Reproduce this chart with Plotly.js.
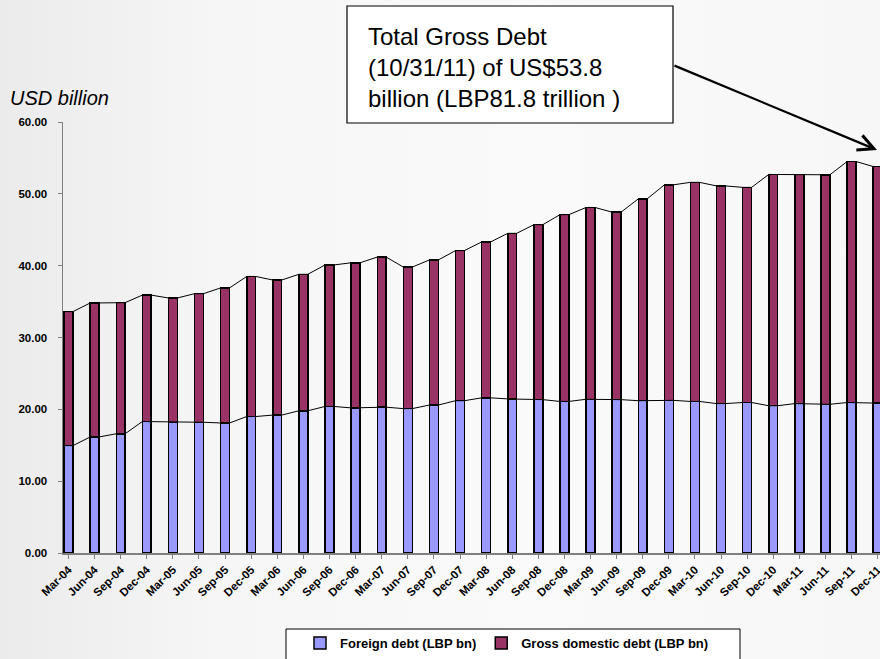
<!DOCTYPE html>
<html>
<head>
<meta charset="utf-8">
<script src="https://cdn.plot.ly/plotly-3.0.1.min.js"></script>
<style>
  html, body { margin: 0; padding: 0; width: 880px; height: 659px; overflow: hidden;
    background: linear-gradient(to right, #ebebeb 0%, #f6f6f6 25%, #fafafa 60%, #f7f7f7 100%); }
  #chart { width: 880px; height: 659px; }
</style>
</head>
<body>
<div id="chart"></div>
<script>
const categories = ["Mar-04","Jun-04","Sep-04","Dec-04","Mar-05","Jun-05","Sep-05","Dec-05",
  "Mar-06","Jun-06","Sep-06","Dec-06","Mar-07","Jun-07","Sep-07","Dec-07",
  "Mar-08","Jun-08","Sep-08","Dec-08","Mar-09","Jun-09","Sep-09","Dec-09",
  "Mar-10","Jun-10","Sep-10","Dec-10","Mar-11","Jun-11","Sep-11","Dec-11"];
const foreignDebt = [14.95,16.15,16.6,18.3,18.2,18.2,18.1,19.0,19.2,19.8,20.4,20.2,20.3,20.1,20.6,21.2,
  21.6,21.45,21.35,21.1,21.4,21.35,21.2,21.25,21.1,20.8,20.95,20.5,20.8,20.7,20.95,20.85];
const domesticDebt = [18.65,18.65,18.25,17.6,17.3,17.9,18.8,19.5,18.8,19.0,19.7,20.2,20.9,19.7,20.2,20.9,
  21.7,23.05,24.35,26.0,26.7,26.1,28.1,30.0,30.5,30.3,29.95,32.2,31.9,31.95,33.55,32.95];
const seriesNames = ["Foreign debt (LBP bn)", "Gross domestic debt (LBP bn)"];
const yTicks = [0, 10, 20, 30, 40, 50, 60];

const BW = 0.34;
const totals = foreignDebt.map((v, i) => v + domesticDebt[i]);
function seriesLine(vals) {
  const xs = [], ys = [];
  vals.forEach((v, i) => { xs.push(i - BW / 2, i + BW / 2); ys.push(v, v); });
  return { x: xs, y: ys };
}
const fl = seriesLine(foreignDebt), tl = seriesLine(totals);
const xr = [-0.21, 31.09];

const traces = [
  { type: "bar", x: categories, y: foreignDebt, name: seriesNames[0], width: BW,
    marker: { color: "#9999FF", line: { color: "#000000", width: 1.5 } } },
  { type: "bar", x: categories, y: domesticDebt, name: seriesNames[1], width: BW,
    marker: { color: "#993366", line: { color: "#000000", width: 1.5 } } },
  { type: "scatter", mode: "lines", x: fl.x, y: fl.y, xaxis: "x2", showlegend: false,
    hoverinfo: "skip", line: { color: "#000000", width: 1 } },
  { type: "scatter", mode: "lines", x: tl.x, y: tl.y, xaxis: "x2", showlegend: false,
    hoverinfo: "skip", line: { color: "#000000", width: 1 } }
];

const L = 63, T = 122, W = 817, H = 431;
const px = v => (v - L) / W;
const py = v => (T + H - v) / H;

const layout = {
  width: 880, height: 659,
  margin: { l: L, r: 0, t: T, b: 659 - T - H, pad: 0 },
  paper_bgcolor: "rgba(0,0,0,0)", plot_bgcolor: "rgba(0,0,0,0)",
  barmode: "stack",
  font: { family: "Arial, 'Liberation Sans', sans-serif", color: "#000" },
  xaxis: { type: "category", range: xr, showgrid: false, zeroline: false,
    showline: true, linecolor: "#808080", linewidth: 1.5,
    ticks: "outside", ticklen: 4, tickcolor: "#808080", tickangle: -45,
    tickfont: { size: 11.5, weight: "bold", color: "#000" } },
  xaxis2: { overlaying: "x", type: "linear", range: xr, visible: false },
  yaxis: { range: [0, 60], tickvals: yTicks, tickformat: ".2f", showgrid: false, zeroline: false,
    showline: true, linecolor: "#808080", linewidth: 1.5,
    ticks: "outside", ticklen: 4, tickcolor: "#808080", ticklabelstandoff: 8,
    tickfont: { size: 11.5, weight: "bold", color: "#000" } },
  showlegend: true,
  legend: { orientation: "h", x: px(300), xanchor: "left", y: py(643), yanchor: "middle",
    bgcolor: "rgba(0,0,0,0)", borderwidth: 0, traceorder: "normal", itemwidth: 30,
    font: { size: 13, weight: "bold", color: "#000" } },
  shapes: [
    { type: "rect", xref: "paper", yref: "paper", x0: px(286), x1: px(740), y0: py(664), y1: py(629),
      line: { color: "#000", width: 1 }, fillcolor: "#ffffff", layer: "below" },
    { type: "rect", xref: "paper", yref: "paper", x0: px(347), x1: px(673), y0: py(123), y1: py(6),
      line: { color: "#000", width: 1.2 }, fillcolor: "#ffffff" }
  ],
  annotations: [
    { xref: "paper", yref: "paper", x: px(8), y: py(98), xanchor: "left", yanchor: "middle",
      showarrow: false, text: "<i>USD billion</i>", font: { size: 20, color: "#000" } },
    { xref: "paper", yref: "paper", x: px(366), y: py(67), xanchor: "left", yanchor: "middle",
      showarrow: false, align: "left",
      text: "Total Gross Debt<br>(10/31/11) of US$53.8<br>billion (LBP81.8 trillion )",
      font: { size: 24, color: "#000" } },
    { xref: "paper", yref: "paper", x: px(877), y: py(150), showarrow: true, text: "",
      ax: 673 - 877, ay: 65 - 150, axref: "pixel", ayref: "pixel",
      arrowhead: 5, arrowsize: 1.4, arrowwidth: 2.2, arrowcolor: "#000", standoff: 0 }
  ]
};

Plotly.newPlot("chart", traces, layout, { displayModeBar: false, staticPlot: true });
</script>
</body>
</html>
